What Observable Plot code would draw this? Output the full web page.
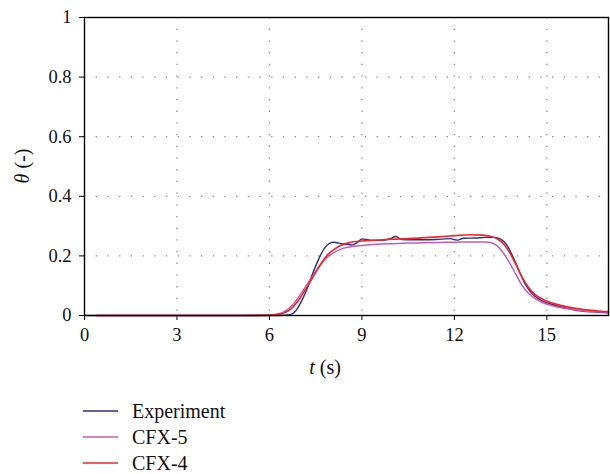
<!DOCTYPE html>
<html>
<head>
<meta charset="utf-8">
<script src="https://cdn.jsdelivr.net/npm/d3@7"></script>
<script src="https://cdn.jsdelivr.net/npm/@observablehq/plot@0.6"></script>
</head>
<body style="margin:0;background:white;font-family:'Liberation Serif'">
<div id="chart"></div>
<div id="legend" style="margin-top:16px;margin-left:83px;font-size:20px;color:#111;font-family:'Liberation Serif'"></div>
<script>
const seriesNames = ["Experiment", "CFX-5", "CFX-4"];
const seriesColors = ["#2c2e80", "#c45cb6", "#f2262c"];
const seriesWidths = [1.4, 1.5, 1.7];

const xTicks = [0, 3, 6, 9, 12, 15];
const yTicks = [0, 0.2, 0.4, 0.6, 0.8, 1];

const expT = [0, 0.5, 1, 2, 3, 4, 5, 6, 6.5, 6.7, 6.85, 7.0, 7.2, 7.4, 7.6, 7.8, 7.95, 8.1, 8.25, 8.45, 8.7, 8.85, 9.0, 9.15, 9.3, 9.6, 9.9, 10.1, 10.3, 10.6, 11.0, 11.4, 11.85, 12.1, 12.3, 12.7, 13.0, 13.3, 13.5, 13.7, 13.9, 14.1, 14.3, 14.5, 14.8, 15.2, 15.6, 16.0, 16.5, 17.0];
const expV = [0, 0, 0, 0, 0, 0, 0, 0, 0.001, 0.004, 0.015, 0.04, 0.084, 0.14, 0.19, 0.228, 0.242, 0.246, 0.243, 0.24, 0.237, 0.245, 0.257, 0.255, 0.252, 0.252, 0.257, 0.265, 0.255, 0.254, 0.254, 0.255, 0.258, 0.253, 0.259, 0.26, 0.262, 0.262, 0.256, 0.237, 0.197, 0.15, 0.105, 0.075, 0.052, 0.036, 0.025, 0.017, 0.012, 0.009];

const cfx5T = [0.4, 1, 2, 3, 4, 5, 5.8, 6.1, 6.3, 6.5, 6.7, 6.9, 7.1, 7.3, 7.5, 7.7, 7.9, 8.1, 8.3, 8.6, 9.0, 9.5, 10, 10.5, 11, 11.5, 12, 12.5, 13.0, 13.2, 13.4, 13.6, 13.8, 14.0, 14.2, 14.4, 14.7, 15.1, 15.5, 16, 16.5, 17];
const cfx5V = [0, 0, 0, 0, 0, 0, 0.0005, 0.002, 0.006, 0.014, 0.03, 0.055, 0.085, 0.117, 0.148, 0.176, 0.198, 0.212, 0.222, 0.23, 0.235, 0.239, 0.241, 0.243, 0.244, 0.245, 0.246, 0.247, 0.247, 0.244, 0.233, 0.208, 0.175, 0.137, 0.1, 0.075, 0.052, 0.035, 0.025, 0.018, 0.013, 0.011];

const cfx4T = [0.4, 1, 2, 3, 4, 5, 6.0, 6.3, 6.5, 6.7, 6.9, 7.1, 7.3, 7.5, 7.7, 7.9, 8.1, 8.3, 8.6, 9.0, 9.5, 10, 10.5, 11, 11.5, 12, 12.5, 12.9, 13.2, 13.4, 13.6, 13.8, 14.0, 14.2, 14.4, 14.6, 14.9, 15.3, 15.7, 16.2, 16.6, 17];
const cfx4V = [0, 0, 0, 0, 0, 0, 0.001, 0.004, 0.01, 0.022, 0.045, 0.075, 0.11, 0.145, 0.178, 0.205, 0.222, 0.235, 0.245, 0.25, 0.253, 0.256, 0.258, 0.261, 0.264, 0.268, 0.271, 0.27, 0.265, 0.257, 0.24, 0.21, 0.17, 0.128, 0.095, 0.072, 0.053, 0.038, 0.028, 0.02, 0.016, 0.013];

const toRows = (ts, vs) => ts.map((t, i) => ({t, v: vs[i]}));
const series = [toRows(expT, expV), toRows(cfx5T, cfx5V), toRows(cfx4T, cfx4V)];

const gridStyle = {stroke: "#8a8a8a", strokeOpacity: 1, strokeWidth: 1.3, strokeDasharray: "1.3,10.4"};

const chart = Plot.plot({
  width: 610,
  height: 382,
  marginTop: 17,
  marginRight: 2,
  marginBottom: 67,
  marginLeft: 84,
  style: {fontFamily: "Liberation Serif", fontSize: "18.5px", background: "white"},
  x: {domain: [0, 17]},
  y: {domain: [0, 1]},
  marks: [
    Plot.gridX(xTicks.slice(1), gridStyle),
    Plot.gridY(yTicks.slice(1, -1), gridStyle),
    Plot.axisX(xTicks, {tickSize: 5, tickPadding: 7, label: null, tickFormat: d => String(d), stroke: "black", fill: "#111"}),
    Plot.axisY(yTicks, {tickSize: 5, tickPadding: 8, label: null, tickFormat: d => (d === 0 || d === 1) ? String(d) : d.toFixed(1), stroke: "black", fill: "#111"}),
    ...series.map((rows, i) => Plot.line(rows, {x: "t", y: "v", stroke: seriesColors[i], strokeWidth: seriesWidths[i], curve: "monotone-x"})),
    Plot.frame({stroke: "black", strokeWidth: 1.4})
  ]
});
chart.setAttribute("font-family", "Liberation Serif");
chart.setAttribute("font-size", "18.5");
document.getElementById("chart").appendChild(chart);

const svg = d3.select(chart);
const xl = svg.append("text")
  .attr("x", 325).attr("y", 374)
  .attr("text-anchor", "middle")
  .attr("font-family", "Liberation Serif")
  .attr("font-size", 20).attr("fill", "#111");
xl.append("tspan").attr("font-style", "italic").text("t");
xl.append("tspan").text(" (s)");

const yl = svg.append("text")
  .attr("transform", "translate(22,166) rotate(-90)")
  .attr("dy", "0.35em")
  .attr("text-anchor", "middle")
  .attr("font-family", "Liberation Serif")
  .attr("font-size", 20).attr("fill", "#111");
yl.append("tspan").attr("font-style", "italic").text("θ");
yl.append("tspan").text(" (-)");

const legend = d3.select("#legend");
seriesNames.forEach((name, i) => {
  const row = legend.append("div")
    .style("display", "flex").style("align-items", "center").style("height", "26px");
  const sw = row.append("svg").attr("width", 35).attr("height", 6).style("margin-right", "14px");
  sw.append("line").attr("x1", 0).attr("x2", 35).attr("y1", 3).attr("y2", 3)
    .attr("stroke", seriesColors[i]).attr("stroke-width", seriesWidths[i]);
  row.append("span").style("font-family", "'Liberation Serif'").text(name);
});
</script>
</body>
</html>
